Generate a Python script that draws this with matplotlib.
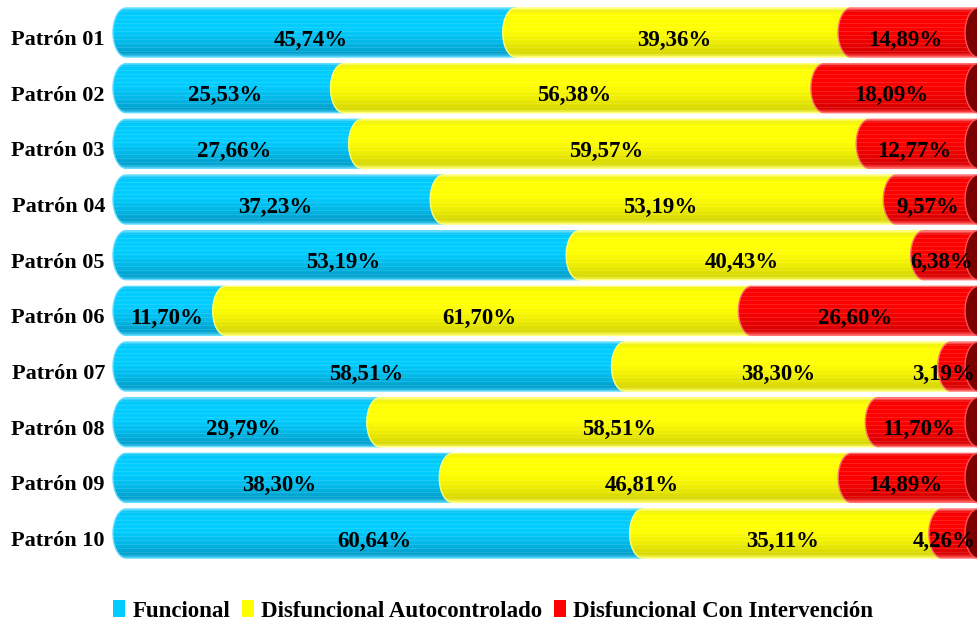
import numpy as np
import matplotlib.pyplot as plt
from matplotlib.path import Path
from matplotlib.patches import PathPatch, Ellipse, Patch
from matplotlib.colors import to_rgb

plt.rcParams['font.family'] = ['Liberation Serif', 'DejaVu Serif']
plt.rcParams['font.weight'] = 'bold'

patrones = ['Patrón 01', 'Patrón 02', 'Patrón 03', 'Patrón 04', 'Patrón 05',
            'Patrón 06', 'Patrón 07', 'Patrón 08', 'Patrón 09', 'Patrón 10']
funcional = [45.74, 25.53, 27.66, 37.23, 53.19, 11.70, 58.51, 29.79, 38.30, 60.64]
autocontrolado = [39.36, 56.38, 59.57, 53.19, 40.43, 61.70, 38.30, 58.51, 46.81, 35.11]
intervencion = [14.89, 18.09, 12.77, 9.57, 6.38, 26.60, 3.19, 11.70, 14.89, 4.26]
series_names = ['Funcional', 'Disfuncional Autocontrolado', 'Disfuncional Con Intervención']

# gradient stops (position, colour) top -> bottom
grads = [
    [(0, '#60dcff'), (0.05, '#00c4f4'), (0.12, '#00ccff'), (0.45, '#00ccff'), (0.7, '#00b8e8'),
     (0.92, '#00a0cc'), (1, '#40c4ec')],
    [(0, '#ffff80'), (0.05, '#f0f000'), (0.12, '#ffff00'), (0.45, '#ffff00'), (0.7, '#eeee00'),
     (0.92, '#d8d800'), (1, '#f4f460')],
    [(0, '#ff8080'), (0.05, '#f00000'), (0.12, '#ff0000'), (0.45, '#ff0000'), (0.7, '#ee0000'),
     (0.92, '#d80000'), (1, '#ff5050')],
]
edge_cols = ['#60dcff', '#ffff70', '#ff7070']
legend_cols = ['#00ccff', '#ffff00', '#ff0000']


def gradient_img(stops, n=49):
    pos = [s[0] for s in stops]
    cols = np.array([to_rgb(s[1]) for s in stops])
    t = np.linspace(0, 1, n)
    img = np.stack([np.interp(t, pos, cols[:, k]) for k in range(3)], axis=1)
    # faint horizontal stripes like the original 3D render
    for row in range(3, n - 3, 4):
        img[row] = img[row] + (1 - img[row]) * 0.12
    return img[:, None, :]


W, H = 978, 621
fig = plt.figure(figsize=(W / 100, H / 100), dpi=100)
px_x0, px_100 = 119, 971
sx = (px_100 - px_x0) / 100.0
ax_l, ax_r = 100, 978
ax_t, ax_b = 0, 575
tick0, step = 40, 55.67
ax = fig.add_axes([ax_l / W, 1 - ax_b / H, (ax_r - ax_l) / W, (ax_b - ax_t) / H])
xlim = ((ax_l - px_x0) / sx, 100 + (ax_r - px_100) / sx)
ylim = ((ax_b - tick0) / step, (ax_t - tick0) / step)

r = 13 / sx           # cap semi-width (data units)
cshift = 7 / sx       # 3D shift of the cap centre
h = 49 / step         # bar height
yoff = -7.5 / step    # 3D offset of bar relative to tick

data = [funcional, autocontrolado, intervencion]
for i, name in enumerate(patrones):
    yc = i + yoff
    left = 0.0
    for k in range(3):
        w = data[k][i]
        x0, x1 = left + cshift, left + w + cshift
        th = np.linspace(np.pi / 2, 3 * np.pi / 2, 50)
        xs = list(x0 + r * np.cos(th)) + [x1, x1, x0]
        ys = list(yc - h / 2 * np.sin(th)) + [yc + h / 2, yc - h / 2, yc - h / 2]
        path = Path(np.column_stack([xs, ys]), closed=True)
        patch = PathPatch(path, transform=ax.transData, facecolor='none',
                          edgecolor=edge_cols[k], lw=1.0, zorder=1.05 + k)
        im = ax.imshow(gradient_img(grads[k]), extent=[x0 - r, x1, yc + h / 2, yc - h / 2],
                       aspect='auto', interpolation='nearest', zorder=1 + k)
        im.set_clip_path(patch)
        ax.add_patch(patch)
        lx = min(left + w / 2 - 0.3, 96.8)
        ax.text(lx, i, f'{w:.2f}%'.replace('.', ','), ha='center', va='center',
                fontsize=16.5, fontweight='bold', zorder=6)
        left += w
    # dark end face
    ax.add_patch(Ellipse((100 + cshift, yc), 2 * r, h, facecolor='#7a0000', edgecolor='#ff5050',
                         lw=1.0, zorder=4))
    ax.text((105 - px_x0) / sx, i, name, ha='right', va='center', fontsize=16,
            fontweight='bold')

ax.set_xlim(*xlim)
ax.set_ylim(*ylim)
ax.axis('off')

handles = [Patch(facecolor=c, edgecolor='none') for c in legend_cols]
fig.legend(handles, series_names, loc='center', bbox_to_anchor=(493 / W, 10 / H), ncol=3,
           frameon=False, prop={'family': 'Liberation Serif', 'weight': 'bold', 'size': 16.5},
           handlelength=0.55, handleheight=0.75, handletextpad=0.3, columnspacing=0.5,
           borderpad=0.1)

fig.savefig('out.png', dpi=100)
